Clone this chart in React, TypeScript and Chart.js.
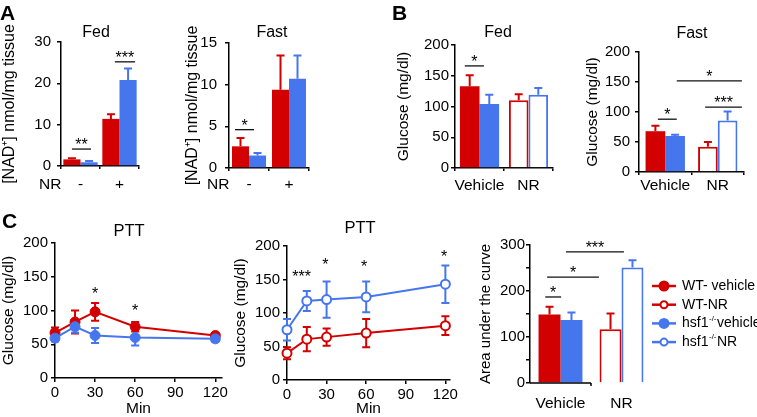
import React, { useEffect, useRef } from 'react';
import { Chart, registerables } from 'chart.js';
Chart.register(...registerables);

const FONT = "'Liberation Sans', Arial, Helvetica, sans-serif";
const RED = '#d20000';
const BLUE = '#4676ee';
const W = 757;
const H = 417;

// ---------- Panel A: [NAD+] nmol/mg tissue ----------
const nrGroups = ['-', '+'];
const nadFedWT = [1.6, 11.4];
const nadFedWTSem = [0.3, 1.1];
const nadFedKO = [0.9, 20.8];
const nadFedKOSem = [0.3, 2.8];
const nadFastWT = [2.6, 9.4];
const nadFastWTSem = [1.0, 4.1];
const nadFastKO = [1.5, 10.7];
const nadFastKOSem = [0.3, 2.8];

// ---------- Panel B: glucose (mg/dl) ----------
const treatGroups = ['Vehicle', 'NR'];
const filledOnly = [false, false];
const openNR = [false, true];
const gluFedWT = [133, 110];
const gluFedWTSem = [18, 10];
const gluFedKO = [104, 119];
const gluFedKOSem = [15, 11];
const gluFastWT = [68, 42];
const gluFastWTSem = [9, 8];
const gluFastKO = [60, 86];
const gluFastKOSem = [2, 15];

// ---------- Panel C: PTT ----------
const pttMinutes = [0, 15, 30, 60, 120];
const minuteTicks = [0, 30, 60, 90, 120];
const pttWTVeh = [67, 83, 98, 76, 63];
const pttWTVehSem = [8, 17, 13, 7, 3];
const pttKOVeh = [59, 76, 63, 60, 58];
const pttKOVehSem = [5, 9, 11, 12, 4];
const pttWTNR = [40, 61, 64, 70, 81];
const pttWTNRSem = [9, 18, 13, 21, 14];
const pttKONR = [75, 118, 120, 124, 143];
const pttKONRSem = [16, 15, 27, 23, 28];
const aucWT = [149, 117];
const aucWTSem = [17, 34];
const aucKO = [137, 251];
const aucKOSem = [16, 16];

const legendNames = ['WT- vehicle', 'WT-NR', 'hsf1', 'hsf1'];
const legendSup = ['', '', '-/-', '-/-'];
const legendTail = ['', '', 'vehicle', 'NR'];
const legendColors = [RED, RED, BLUE, BLUE];
const legendOpen = [false, true, false, true];

// significance marks (x in category index / minutes, y in data units)
type Sig = { x1?: number; x2?: number; x?: number; y: number; text: string };
const sigAFed: Sig[] = [
  { x1: -0.22, x2: 0.27, y: 4.1, text: '**' },
  { x1: 0.88, x2: 1.4, y: 25.2, text: '***' },
];
const sigAFast: Sig[] = [{ x1: -0.35, x2: 0.125, y: 4.6, text: '*' }];
const sigBFed: Sig[] = [{ x1: -0.3, x2: 0.09, y: 166, text: '*' }];
const sigBFast: Sig[] = [
  { x1: -0.14, x2: 0.22, y: 88, text: '*' },
  { x1: 0.76, x2: 1.46, y: 108, text: '***' },
  { x1: 0.22, x2: 1.46, y: 152, text: '*' },
];
const sigCLeft: Sig[] = [
  { x: 30, y: 130, text: '*' },
  { x: 60, y: 105, text: '*' },
];
const sigCMid: Sig[] = [
  { x: 11, y: 160, text: '***' },
  { x: 29, y: 177, text: '*' },
  { x: 58.5, y: 175, text: '*' },
  { x: 119, y: 190, text: '*' },
];
const sigAUC: Sig[] = [
  { x1: -0.25, x2: 0.01, y: 187, text: '*' },
  { x1: -0.22, x2: 0.63, y: 230, text: '*' },
  { x1: 0.09, x2: 1.04, y: 285, text: '***' },
];

Chart.defaults.font.family = FONT;
Chart.defaults.color = '#000';

type Box = { l: number; t: number; r: number; b: number };
type YSpec = { max: number; step: number; every?: number; pad: number; title: string; titleX: number; titleSize?: number };

function yAxis(box: Box, y: YSpec) {
  const ts = y.titleSize ?? 15.5;
  return {
    type: 'linear',
    min: 0,
    max: y.max,
    border: { display: true, color: '#000', width: 1.5 },
    grid: { display: true, drawOnChartArea: false, drawTicks: true, tickLength: 4, color: '#000', lineWidth: 1.5 },
    ticks: {
      stepSize: y.step,
      padding: y.pad,
      color: '#000',
      font: { family: FONT, size: 15 },
      callback: (v: number) => (y.every && v % y.every !== 0 ? '' : String(v)),
    },
    title: {
      display: true,
      text: y.title,
      color: '#000',
      font: { family: FONT, size: ts },
      padding: { top: y.titleX - ts * 0.6, bottom: 0 },
    },
    afterFit: (s: any) => {
      s.width = box.l;
    },
  };
}

function sigPlugin(items: Sig[]) {
  return {
    id: 'sig',
    afterDatasetsDraw(chart: any) {
      const ctx = chart.ctx;
      const xs = chart.scales.x;
      const ys = chart.scales.y;
      ctx.save();
      ctx.fillStyle = '#000';
      ctx.strokeStyle = '#111';
      ctx.lineWidth = 1.3;
      ctx.font = `16px ${FONT}`;
      ctx.textAlign = 'center';
      ctx.textBaseline = 'alphabetic';
      for (const it of items) {
        const py = ys.getPixelForValue(it.y);
        let cx: number;
        let cy: number;
        if (it.x1 !== undefined && it.x2 !== undefined) {
          const a = xs.getPixelForValue(it.x1);
          const b = xs.getPixelForValue(it.x2);
          ctx.beginPath();
          ctx.moveTo(a, py);
          ctx.lineTo(b, py);
          ctx.stroke();
          cx = (a + b) / 2;
          cy = py - 8;
        } else {
          cx = xs.getPixelForValue(it.x as number);
          cy = py;
        }
        ctx.fillText(it.text, cx, cy + 9);
      }
      ctx.restore();
    },
  };
}

function titlePlugin(text: string, x: number, y: number, size = 16) {
  return {
    id: 'ptitle',
    afterDraw(chart: any) {
      const ctx = chart.ctx;
      ctx.save();
      ctx.fillStyle = '#000';
      ctx.font = `${size}px ${FONT}`;
      ctx.textAlign = 'center';
      ctx.textBaseline = 'middle';
      ctx.fillText(text, x, y);
      ctx.restore();
    },
  };
}

type BarSeries = { vals: number[]; sem: number[]; color: string; open: boolean[] };
type LineSeries = { vals: number[]; sem: number[]; color: string; open: boolean };

function barErrors(series: BarSeries[]) {
  return {
    id: 'barErrors',
    afterDatasetsDraw(chart: any) {
      const ctx = chart.ctx;
      const ys = chart.scales.y;
      series.forEach((s, di) => {
        const meta = chart.getDatasetMeta(di);
        ctx.save();
        ctx.strokeStyle = s.color;
        ctx.lineWidth = 2;
        meta.data.forEach((el: any, i: number) => {
          const top = ys.getPixelForValue(s.vals[i] + s.sem[i]);
          ctx.beginPath();
          ctx.moveTo(el.x, el.y);
          ctx.lineTo(el.x, top);
          ctx.moveTo(el.x - 4, top);
          ctx.lineTo(el.x + 4, top);
          ctx.stroke();
        });
        ctx.restore();
      });
    },
  };
}

function lineErrors(series: LineSeries[]) {
  return {
    id: 'lineErrors',
    beforeDatasetsDraw(chart: any) {
      const ctx = chart.ctx;
      const ys = chart.scales.y;
      series.forEach((s, di) => {
        const meta = chart.getDatasetMeta(di);
        ctx.save();
        ctx.strokeStyle = s.color;
        ctx.lineWidth = 2;
        meta.data.forEach((el: any, i: number) => {
          const top = ys.getPixelForValue(s.vals[i] + s.sem[i]);
          const bot = ys.getPixelForValue(s.vals[i] - s.sem[i]);
          ctx.beginPath();
          ctx.moveTo(el.x, bot);
          ctx.lineTo(el.x, top);
          ctx.moveTo(el.x - 4, top);
          ctx.lineTo(el.x + 4, top);
          ctx.moveTo(el.x - 4, bot);
          ctx.lineTo(el.x + 4, bot);
          ctx.stroke();
        });
        ctx.restore();
      });
    },
  };
}

const brokenAxisPlugin = {
  id: 'brokenAxis',
  afterDatasetsDraw(chart: any) {
    const ctx = chart.ctx;
    const xs = chart.scales.x;
    const a = chart.chartArea;
    const mid = xs.getPixelForValue(0.5);
    ctx.save();
    ctx.strokeStyle = '#000';
    ctx.lineWidth = 1.5;
    ctx.beginPath();
    ctx.moveTo(a.left, a.bottom);
    ctx.lineTo(mid, a.bottom);
    ctx.moveTo(mid, a.bottom);
    ctx.lineTo(mid, a.bottom + 3);
    ctx.stroke();
    ctx.restore();
  },
};

const legendPlugin = {
  id: 'figLegend',
  afterDraw(chart: any) {
    const ctx = chart.ctx;
    const x0 = 652;
    const y0 = 286;
    const dy = 18.7;
    ctx.save();
    legendNames.forEach((name, i) => {
      const y = y0 + i * dy;
      const c = legendColors[i];
      ctx.strokeStyle = c;
      ctx.lineWidth = 2.5;
      ctx.beginPath();
      ctx.moveTo(x0, y);
      ctx.lineTo(x0 + 24, y);
      ctx.stroke();
      ctx.beginPath();
      ctx.arc(x0 + 12, y, legendOpen[i] ? 3.5 : 4.5, 0, Math.PI * 2);
      ctx.fillStyle = legendOpen[i] ? '#fff' : c;
      ctx.fill();
      ctx.lineWidth = 2;
      ctx.stroke();
      ctx.fillStyle = '#000';
      ctx.textAlign = 'left';
      ctx.textBaseline = 'middle';
      ctx.font = `14px ${FONT}`;
      let tx = x0 + 30;
      ctx.fillText(name, tx, y);
      tx += ctx.measureText(name).width;
      if (legendSup[i]) {
        ctx.font = `8px ${FONT}`;
        ctx.fillText(legendSup[i], tx + 0.5, y - 5);
        tx += ctx.measureText(legendSup[i]).width + 1;
        ctx.font = `14px ${FONT}`;
        ctx.fillText(legendTail[i], tx, y);
      }
    });
    ctx.restore();
  },
};

function catAxis(box: Box, labels: string[], pad: number, hidden = false) {
  return {
    type: 'category',
    labels,
    offset: true,
    z: 1,
    border: { display: !hidden, color: '#000', width: 1.5 },
    grid: { display: !hidden, drawOnChartArea: false, drawTicks: true, tickLength: 3, color: '#000', lineWidth: 1.5, offset: true },
    ticks: { padding: hidden ? pad + 3 : pad, color: '#000', font: { family: FONT, size: 15.5 }, maxRotation: 0, autoSkip: false },
    afterFit: (s: any) => {
      s.height = H - box.b;
    },
  };
}

function makeBar(
  canvas: HTMLCanvasElement,
  o: {
    box: Box;
    labels: string[];
    series: BarSeries[];
    catPct: number;
    y: YSpec;
    xPad: number;
    sig: Sig[];
    title?: [string, number, number];
    brokenX?: boolean;
    legend?: boolean;
  }
) {
  const plugins: any[] = [barErrors(o.series), sigPlugin(o.sig)];
  if (o.title) plugins.push(titlePlugin(o.title[0], o.title[1], o.title[2]));
  if (o.brokenX) plugins.push(brokenAxisPlugin);
  if (o.legend) plugins.push(legendPlugin);
  return new Chart(canvas, {
    type: 'bar',
    data: {
      labels: o.labels,
      datasets: o.series.map((s) => ({
        data: s.vals,
        backgroundColor: s.vals.map((_, i) => (s.open[i] ? '#fff' : s.color)),
        borderColor: s.color,
        borderWidth: s.vals.map((_, i) => (s.open[i] ? 2 : 0)),
        borderSkipped: 'start',
        categoryPercentage: o.catPct,
        barPercentage: 1,
      })),
    } as any,
    options: {
      responsive: false,
      animation: false,
      events: [],
      layout: { padding: { left: 0, top: o.box.t, right: W - o.box.r, bottom: 0 } },
      plugins: { legend: { display: false }, tooltip: { enabled: false } },
      scales: {
        x: catAxis(o.box, o.labels, o.xPad, !!o.brokenX),
        y: yAxis(o.box, o.y),
      },
    } as any,
    plugins,
  });
}

function makeLine(
  canvas: HTMLCanvasElement,
  o: { box: Box; series: LineSeries[]; xMax: number; y: YSpec; xPad: number; sig: Sig[]; title: [string, number, number] }
) {
  return new Chart(canvas, {
    type: 'line',
    data: {
      datasets: o.series.map((s, di) => ({
        data: pttMinutes.map((m, i) => ({ x: m, y: s.vals[i] })),
        borderColor: s.color,
        backgroundColor: s.open ? '#fff' : s.color,
        pointBackgroundColor: s.open ? '#fff' : s.color,
        pointBorderColor: s.color,
        pointRadius: s.open ? 4.5 : 5,
        pointBorderWidth: s.open ? 2 : 1,
        borderWidth: 2,
        tension: 0,
        clip: false,
        order: o.series.length - di,
      })),
    } as any,
    options: {
      responsive: false,
      animation: false,
      events: [],
      layout: { padding: { left: 0, top: o.box.t, right: W - o.box.r, bottom: 0 } },
      plugins: { legend: { display: false }, tooltip: { enabled: false } },
      scales: {
        x: {
          type: 'linear',
          min: 0,
          max: o.xMax,
          border: { display: true, color: '#000', width: 1.5 },
          grid: { display: true, drawOnChartArea: false, drawTicks: true, tickLength: 4, color: '#000', lineWidth: 1.5 },
          ticks: { stepSize: 30, padding: o.xPad, color: '#000', font: { family: FONT, size: 15 }, maxRotation: 0 },
          afterBuildTicks: (s: any) => {
            s.ticks = minuteTicks.map((v) => ({ value: v }));
          },
          title: { display: true, text: 'Min', color: '#000', font: { family: FONT, size: 15.5 }, padding: { top: 0, bottom: -1 } },
          afterFit: (s: any) => {
            s.height = H - o.box.b;
          },
        },
        y: yAxis(o.box, o.y),
      },
    } as any,
    plugins: [lineErrors(o.series), sigPlugin(o.sig), titlePlugin(o.title[0], o.title[1], o.title[2], 16.5)],
  });
}

const GLU = 'Glucose (mg/dl)';
const NAD = '[NAD\u207A] nmol/mg tissue';

const builders: ((c: HTMLCanvasElement) => Chart)[] = [
  (c) =>
    makeBar(c, {
      box: { l: 61, t: 42, r: 139, b: 166 },
      labels: nrGroups,
      series: [
        { vals: nadFedWT, sem: nadFedWTSem, color: RED, open: filledOnly },
        { vals: nadFedKO, sem: nadFedKOSem, color: BLUE, open: filledOnly },
      ],
      catPct: 0.88,
      y: { max: 30, step: 10, pad: 6, title: NAD, titleX: 10, titleSize: 16 },
      xPad: 6,
      sig: sigAFed,
      title: ['Fed', 96, 33],
    }),
  (c) =>
    makeBar(c, {
      box: { l: 229, t: 43, r: 309, b: 168 },
      labels: nrGroups,
      series: [
        { vals: nadFastWT, sem: nadFastWTSem, color: RED, open: filledOnly },
        { vals: nadFastKO, sem: nadFastKOSem, color: BLUE, open: filledOnly },
      ],
      catPct: 0.85,
      y: { max: 15, step: 5, pad: 8, title: NAD, titleX: 193, titleSize: 16 },
      xPad: 4,
      sig: sigAFast,
      title: ['Fast', 272, 33],
    }),
  (c) =>
    makeBar(c, {
      box: { l: 455, t: 45, r: 553, b: 168 },
      labels: treatGroups,
      series: [
        { vals: gluFedWT, sem: gluFedWTSem, color: RED, open: openNR },
        { vals: gluFedKO, sem: gluFedKOSem, color: BLUE, open: openNR },
      ],
      catPct: 0.8,
      y: { max: 200, step: 50, pad: 2, title: GLU, titleX: 404 },
      xPad: 5,
      sig: sigBFed,
      title: ['Fed', 498, 33],
    }),
  (c) =>
    makeBar(c, {
      box: { l: 639, t: 52, r: 744, b: 172 },
      labels: treatGroups,
      series: [
        { vals: gluFastWT, sem: gluFastWTSem, color: RED, open: openNR },
        { vals: gluFastKO, sem: gluFastKOSem, color: BLUE, open: openNR },
      ],
      catPct: 0.75,
      y: { max: 200, step: 50, pad: 5, title: GLU, titleX: 593 },
      xPad: 1,
      sig: sigBFast,
      title: ['Fast', 692, 34],
    }),
  (c) =>
    makeLine(c, {
      box: { l: 55, t: 243, r: 222, b: 378 },
      series: [
        { vals: pttWTVeh, sem: pttWTVehSem, color: RED, open: false },
        { vals: pttKOVeh, sem: pttKOVehSem, color: BLUE, open: false },
      ],
      xMax: 125,
      y: { max: 200, step: 50, pad: 3, title: GLU, titleX: 9 },
      xPad: 2,
      sig: sigCLeft,
      title: ['PTT', 129, 231],
    }),
  (c) =>
    makeLine(c, {
      box: { l: 287, t: 246, r: 450, b: 380 },
      series: [
        { vals: pttWTNR, sem: pttWTNRSem, color: RED, open: true },
        { vals: pttKONR, sem: pttKONRSem, color: BLUE, open: true },
      ],
      xMax: 123.5,
      y: { max: 200, step: 50, pad: 3, title: GLU, titleX: 241 },
      xPad: 2,
      sig: sigCMid,
      title: ['PTT', 360, 228],
    }),
  (c) =>
    makeBar(c, {
      box: { l: 530, t: 245, r: 652, b: 383 },
      labels: treatGroups,
      series: [
        { vals: aucWT, sem: aucWTSem, color: RED, open: openNR },
        { vals: aucKO, sem: aucKOSem, color: BLUE, open: openNR },
      ],
      catPct: 0.72,
      y: { max: 300, step: 50, every: 100, pad: 1, title: 'Area under the curve', titleX: 486, titleSize: 15 },
      xPad: 5,
      sig: sigAUC,
      brokenX: true,
      legend: true,
    }),
];

function ChartCanvas({ make }: { make: (c: HTMLCanvasElement) => Chart }) {
  const ref = useRef<HTMLCanvasElement>(null);
  useEffect(() => {
    const ch = make(ref.current as HTMLCanvasElement);
    return () => ch.destroy();
  }, [make]);
  return (
    <canvas
      ref={ref}
      width={W}
      height={H}
      style={{ position: 'absolute', left: 0, top: 0, width: W, height: H }}
    />
  );
}

function Label({ text, left, top, size, bold }: { text: string; left: number; top: number; size: number; bold?: boolean }) {
  return (
    <div
      style={{
        position: 'absolute',
        left,
        top,
        fontFamily: FONT,
        fontSize: size,
        fontWeight: bold ? 'bold' : 'normal',
        lineHeight: 1,
        whiteSpace: 'nowrap',
        color: '#000',
      }}
    >
      {text}
    </div>
  );
}

export default function App() {
  return (
    <div style={{ position: 'absolute', left: 0, top: 0, width: W, height: H, background: '#fff', overflow: 'hidden' }}>
      {builders.map((b, i) => (
        <ChartCanvas key={i} make={b} />
      ))}
      <Label text="A" left={0} top={2} size={21} bold />
      <Label text="B" left={392} top={2} size={21} bold />
      <Label text="C" left={2} top={210} size={21} bold />
      <Label text="NR" left={39} top={176} size={15.5} />
      <Label text="NR" left={207} top={176} size={15.5} />
    </div>
  );
}
